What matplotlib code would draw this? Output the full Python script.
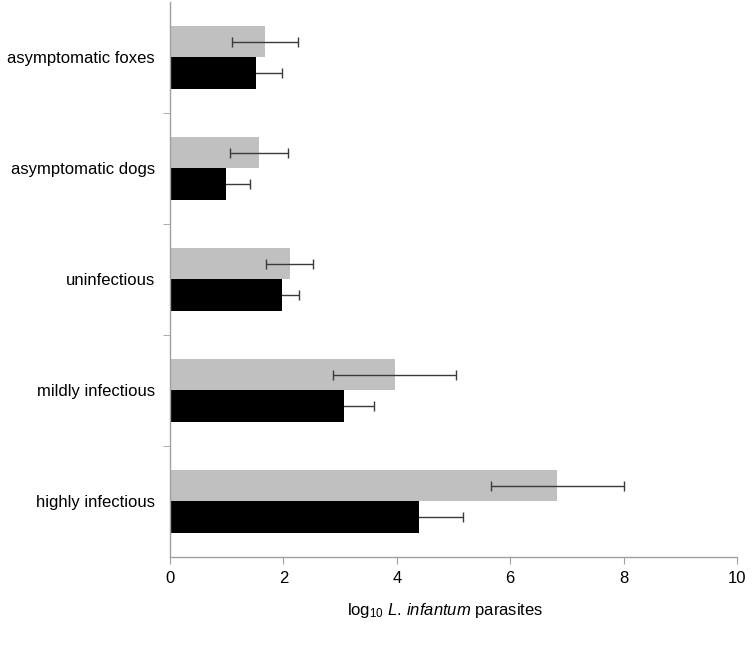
import matplotlib
matplotlib.use("Agg")
import matplotlib.pyplot as plt
import numpy as np

plt.rcParams['font.family'] = ['Liberation Sans', 'DejaVu Sans']
plt.rcParams['mathtext.fontset'] = 'custom'
plt.rcParams['mathtext.rm'] = 'Liberation Sans'
plt.rcParams['mathtext.it'] = 'Liberation Sans:italic'

# categories, bottom to top
categories = ['highly infectious', 'mildly infectious', 'uninfectious',
              'asymptomatic dogs', 'asymptomatic foxes']

# grey series (upper bar in each group)
grey_vals = [6.83, 3.96, 2.11, 1.57, 1.68]
grey_err = [1.17, 1.09, 0.41, 0.51, 0.58]

# black series (lower bar in each group)
black_vals = [4.39, 3.07, 1.98, 0.99, 1.51]
black_err = [0.77, 0.52, 0.30, 0.42, 0.47]

xticks = [0, 2, 4, 6, 8, 10]

fig = plt.figure(figsize=(7.55, 6.52), dpi=100)
ax = fig.add_axes([0.2252, 0.1457, 0.7510, 0.8513])

y = np.arange(len(categories))
h = 0.28

ax.barh(y + h / 2, grey_vals, height=h, color='#c0c0c0', xerr=grey_err,
        error_kw=dict(ecolor='#3a3a3a', elinewidth=1, capsize=3.5, capthick=1))
# black bars' error bars sit underneath, so the inner half is hidden
ax.barh(y - h / 2, black_vals, height=h, color='black', zorder=2, xerr=black_err,
        error_kw=dict(ecolor='#3a3a3a', elinewidth=1, capsize=3.5, capthick=1, zorder=1))

ax.set_xlim(0, 10)
ax.set_ylim(-0.5, len(categories) - 0.5)
ax.set_xticks(xticks)
ax.set_xticklabels([str(t) for t in xticks], fontsize=12)

ax.set_yticks(y)
ax.set_yticklabels(categories, fontsize=12)
ax.tick_params(axis='y', which='major', length=0, pad=11)
ax.set_yticks(np.arange(len(categories) - 1) + 0.5, minor=True)
ax.tick_params(axis='y', which='minor', length=5, color='#a0a0a0', direction='out')
ax.tick_params(axis='x', length=5, color='#a0a0a0', direction='out', pad=5)

for s in ['top', 'right']:
    ax.spines[s].set_visible(False)
for s in ['left', 'bottom']:
    ax.spines[s].set_color('#a0a0a0')
    ax.spines[s].set_linewidth(1)
    ax.spines[s].set_zorder(3)

ax.set_xlabel(r'log$_{10}$ $\mathit{L.\,infantum}$ parasites', fontsize=12, labelpad=11)
ax.xaxis.label.set_x(0.485)

plt.savefig("out.png", dpi=100)
